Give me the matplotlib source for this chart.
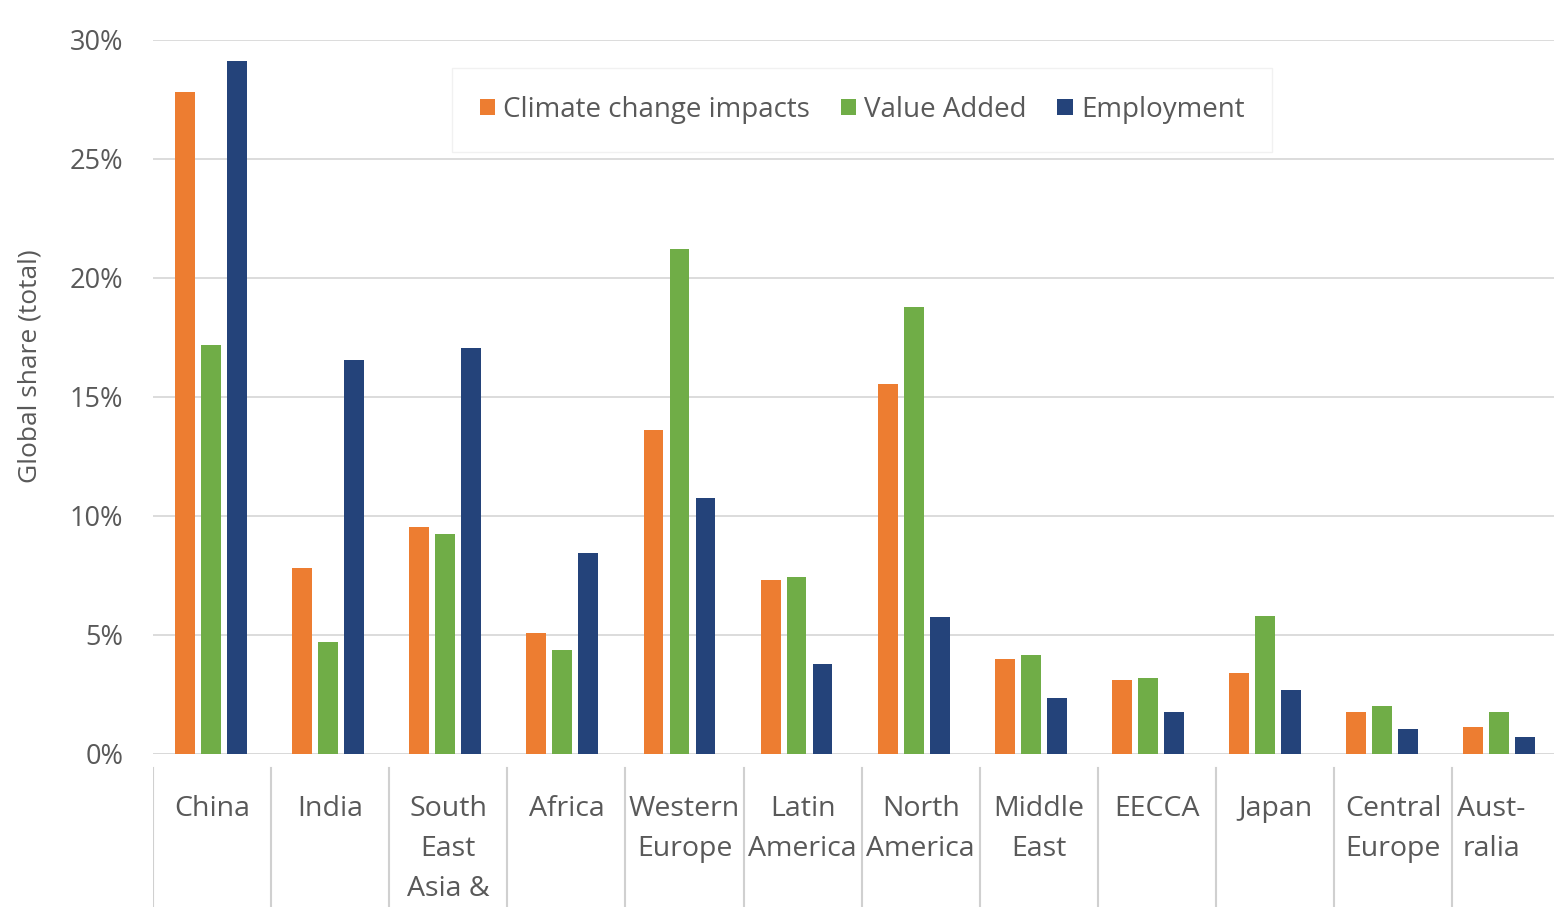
import numpy as np
import matplotlib.pyplot as plt

plt.rcParams['font.family'] = ['Open Sans', 'DejaVu Sans']

regions = ["China", "India", "South\nEast\nAsia &", "Africa", "Western\nEurope",
           "Latin\nAmerica", "North\nAmerica", "Middle\nEast", "EECCA", "Japan",
           "Central\nEurope", "Aust-\nralia"]
climate = [27.8, 7.8, 9.55, 5.1, 13.6, 7.3, 15.55, 4.0, 3.1, 3.4, 1.75, 1.15]
value_added = [17.2, 4.7, 9.25, 4.35, 21.2, 7.45, 18.8, 4.15, 3.2, 5.8, 2.0, 1.75]
employment = [29.1, 16.55, 17.05, 8.45, 10.75, 3.8, 5.75, 2.35, 1.75, 2.7, 1.05, 0.7]

series = [("Climate change impacts", climate, "#ED7D31"),
          ("Value Added", value_added, "#70AD47"),
          ("Employment", employment, "#24437A")]

txt = "#595959"
fig = plt.figure(figsize=(15.54, 9.07), dpi=100)
# plot area runs a little past the right edge of the picture
ax = fig.add_axes([0.0982, 0.1687, 0.9041, 0.7872])
# category label strip underneath (slightly wider spacing than the bars)
axl = fig.add_axes([0.0985, 0.0, 0.912, 0.1687])

x = np.arange(len(regions))
w = 0.17
step = 0.222
for i, (name, vals, col) in enumerate(series):
    ax.bar(x + (i - 1) * step, vals, w, color=col, label=name, zorder=3)

ax.set_xlim(-0.5, len(regions) - 0.5)
ax.set_ylim(0, 30)
ax.set_yticks(np.arange(0, 31, 5))
ax.set_yticklabels(["{}%".format(v) for v in range(0, 31, 5)], fontsize=19.5, color=txt)
ax.tick_params(axis='y', length=0, pad=21)
ax.set_xticks([])
ax.grid(axis='y', color="#D9D9D9", linewidth=1.3, zorder=0)
for s in ax.spines.values():
    s.set_visible(False)
ax.axhline(0, color="#D9D9D9", linewidth=1.3, zorder=2)

fig.text(0.019, 0.5965, "Global share (total)", rotation=90, ha='center', va='center',
         fontsize=19, color=txt)

axl.set_xlim(-0.5, len(regions) - 0.5)
axl.set_ylim(0, 1)
axl.axis('off')
for b in np.arange(-0.5, len(regions) - 1, 1.0):
    axl.plot([b, b], [0.0, 0.908], color="#D0D0D0", linewidth=1.5)
for xi, lab in zip(x, regions):
    # last label sits a bit left, squeezed by the cut-off edge
    xpos = xi - 0.17 if xi == len(regions) - 1 else xi
    axl.text(xpos, 0.73, lab, ha='center', va='top',
             fontsize=20.5, color=txt, linespacing=1.57)

leg = ax.legend(loc='upper center', bbox_to_anchor=(0.505, 0.98), ncol=3,
                fontsize=20, frameon=True, fancybox=False, handlelength=0.55,
                handleheight=0.55, handletextpad=0.3, columnspacing=1.1,
                borderpad=1.0)
leg.get_frame().set_edgecolor("#EEEEEE")
for t in leg.get_texts():
    t.set_color(txt)

fig.savefig("out.png", dpi=100)
